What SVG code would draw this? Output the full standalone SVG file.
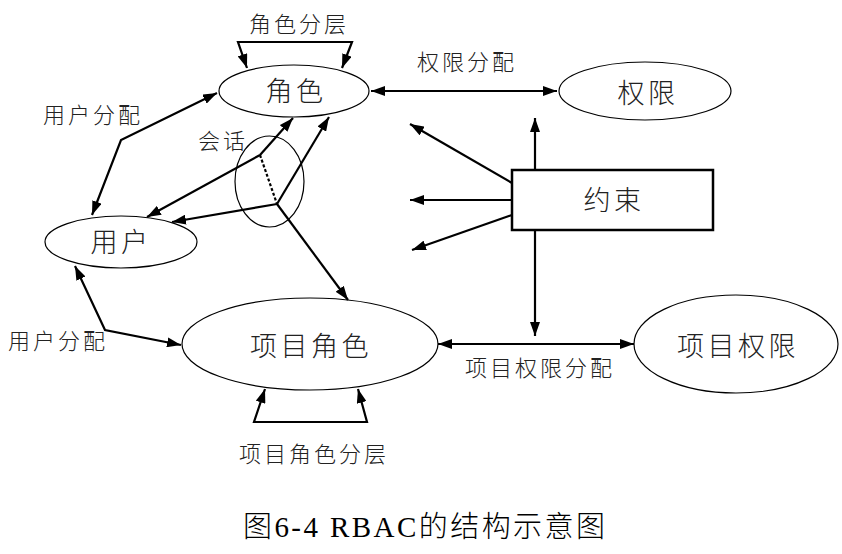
<svg xmlns="http://www.w3.org/2000/svg" width="842" height="554" viewBox="0 0 842 554">
<style>
.n{fill:none;stroke:#000;stroke-width:1.2}
.c{fill:none;stroke:#000;stroke-width:2.2}
.d{stroke-dasharray:3,2}
.t{font-family:"Noto Sans CJK SC","Liberation Sans",sans-serif;font-weight:300;text-anchor:middle;dominant-baseline:central;fill:#222}
.L{font-size:27px;letter-spacing:3.5px}
.s{font-size:22px;letter-spacing:3px}
.cap{font-family:"Liberation Serif","Noto Sans CJK SC",serif;font-size:29px;font-weight:300;fill:#000}
</style>
<defs>
<marker id="a" viewBox="0 0 14 10" refX="14" refY="5" markerWidth="14" markerHeight="10" orient="auto-start-reverse" markerUnits="userSpaceOnUse"><path d="M0,0L14,5L0,10z" fill="#000"/></marker>
</defs>
<rect width="842" height="554" fill="#fff"/>
<g id="role"><ellipse class="n" cx="294" cy="91" rx="75" ry="26"/><text class="t L" x="296" y="89">角色</text></g>
<g id="perm"><ellipse class="n" cx="645" cy="91" rx="86" ry="29"/><text class="t L" x="648" y="91">权限</text></g>
<g id="user"><ellipse class="n" cx="121" cy="242" rx="76" ry="26"/><text class="t L" x="121" y="240">用户</text></g>
<g id="session"><ellipse class="n" cx="269.5" cy="181.5" rx="34.5" ry="45.5"/></g>
<g id="constraint"><rect x="512" y="170" width="201" height="60" fill="none" stroke="#000" stroke-width="2.5"/><text class="t L" x="614" y="198">约束</text></g>
<g id="projrole"><ellipse class="n" cx="310" cy="344" rx="128" ry="46"/><text class="t L" x="311" y="344">项目角色</text></g>
<g id="projperm"><ellipse class="n" cx="736" cy="344" rx="102" ry="49"/><text class="t L" x="738" y="344">项目权限</text></g>
<g id="connectors">
<path class="c" d="M247,68L238,42L352,42L342,68" marker-start="url(#a)" marker-end="url(#a)"/>
<line class="c" x1="371" y1="91" x2="557" y2="91" marker-start="url(#a)" marker-end="url(#a)"/>
<path class="c" d="M217,93L121,140L92,215" marker-start="url(#a)" marker-end="url(#a)"/>
<line class="c" x1="260" y1="155" x2="293" y2="118" marker-end="url(#a)"/>
<line class="c" x1="260" y1="155" x2="147" y2="217" marker-end="url(#a)"/>
<line class="c d" x1="260" y1="155" x2="277" y2="204"/>
<line class="c" x1="277" y1="204" x2="172" y2="222" marker-end="url(#a)"/>
<line class="c" x1="277" y1="204" x2="329" y2="117" marker-end="url(#a)"/>
<line class="c" x1="277" y1="204" x2="348" y2="300" marker-end="url(#a)"/>
<line class="c" x1="535" y1="170" x2="535" y2="118" marker-end="url(#a)"/>
<line class="c" x1="512" y1="183" x2="410" y2="124" marker-end="url(#a)"/>
<line class="c" x1="512" y1="200" x2="410" y2="200" marker-end="url(#a)"/>
<line class="c" x1="512" y1="215" x2="412" y2="250" marker-end="url(#a)"/>
<line class="c" x1="535" y1="230" x2="535" y2="336" marker-end="url(#a)"/>
<line class="c" x1="438" y1="344" x2="634" y2="344" marker-start="url(#a)" marker-end="url(#a)"/>
<path class="c" d="M75,266L105,330L181,345" marker-start="url(#a)" marker-end="url(#a)"/>
<path class="c" d="M265,389L254,422L367,422L358,389" marker-start="url(#a)" marker-end="url(#a)"/>
</g>
<g id="labels">
<text class="t s" x="299" y="22">角色分层</text>
<text class="t s" x="467" y="60">权限分配</text>
<text class="t s" x="93" y="113">用户分配</text>
<text class="t s" x="223" y="139">会话</text>
<text class="t s" x="58" y="339">用户分配</text>
<text class="t s" x="540" y="366">项目权限分配</text>
<text class="t s" x="314" y="452">项目角色分层</text>
</g>
<text class="cap" x="243" y="537" textLength="362" lengthAdjust="spacing">图6-4  RBAC的结构示意图</text>
</svg>
